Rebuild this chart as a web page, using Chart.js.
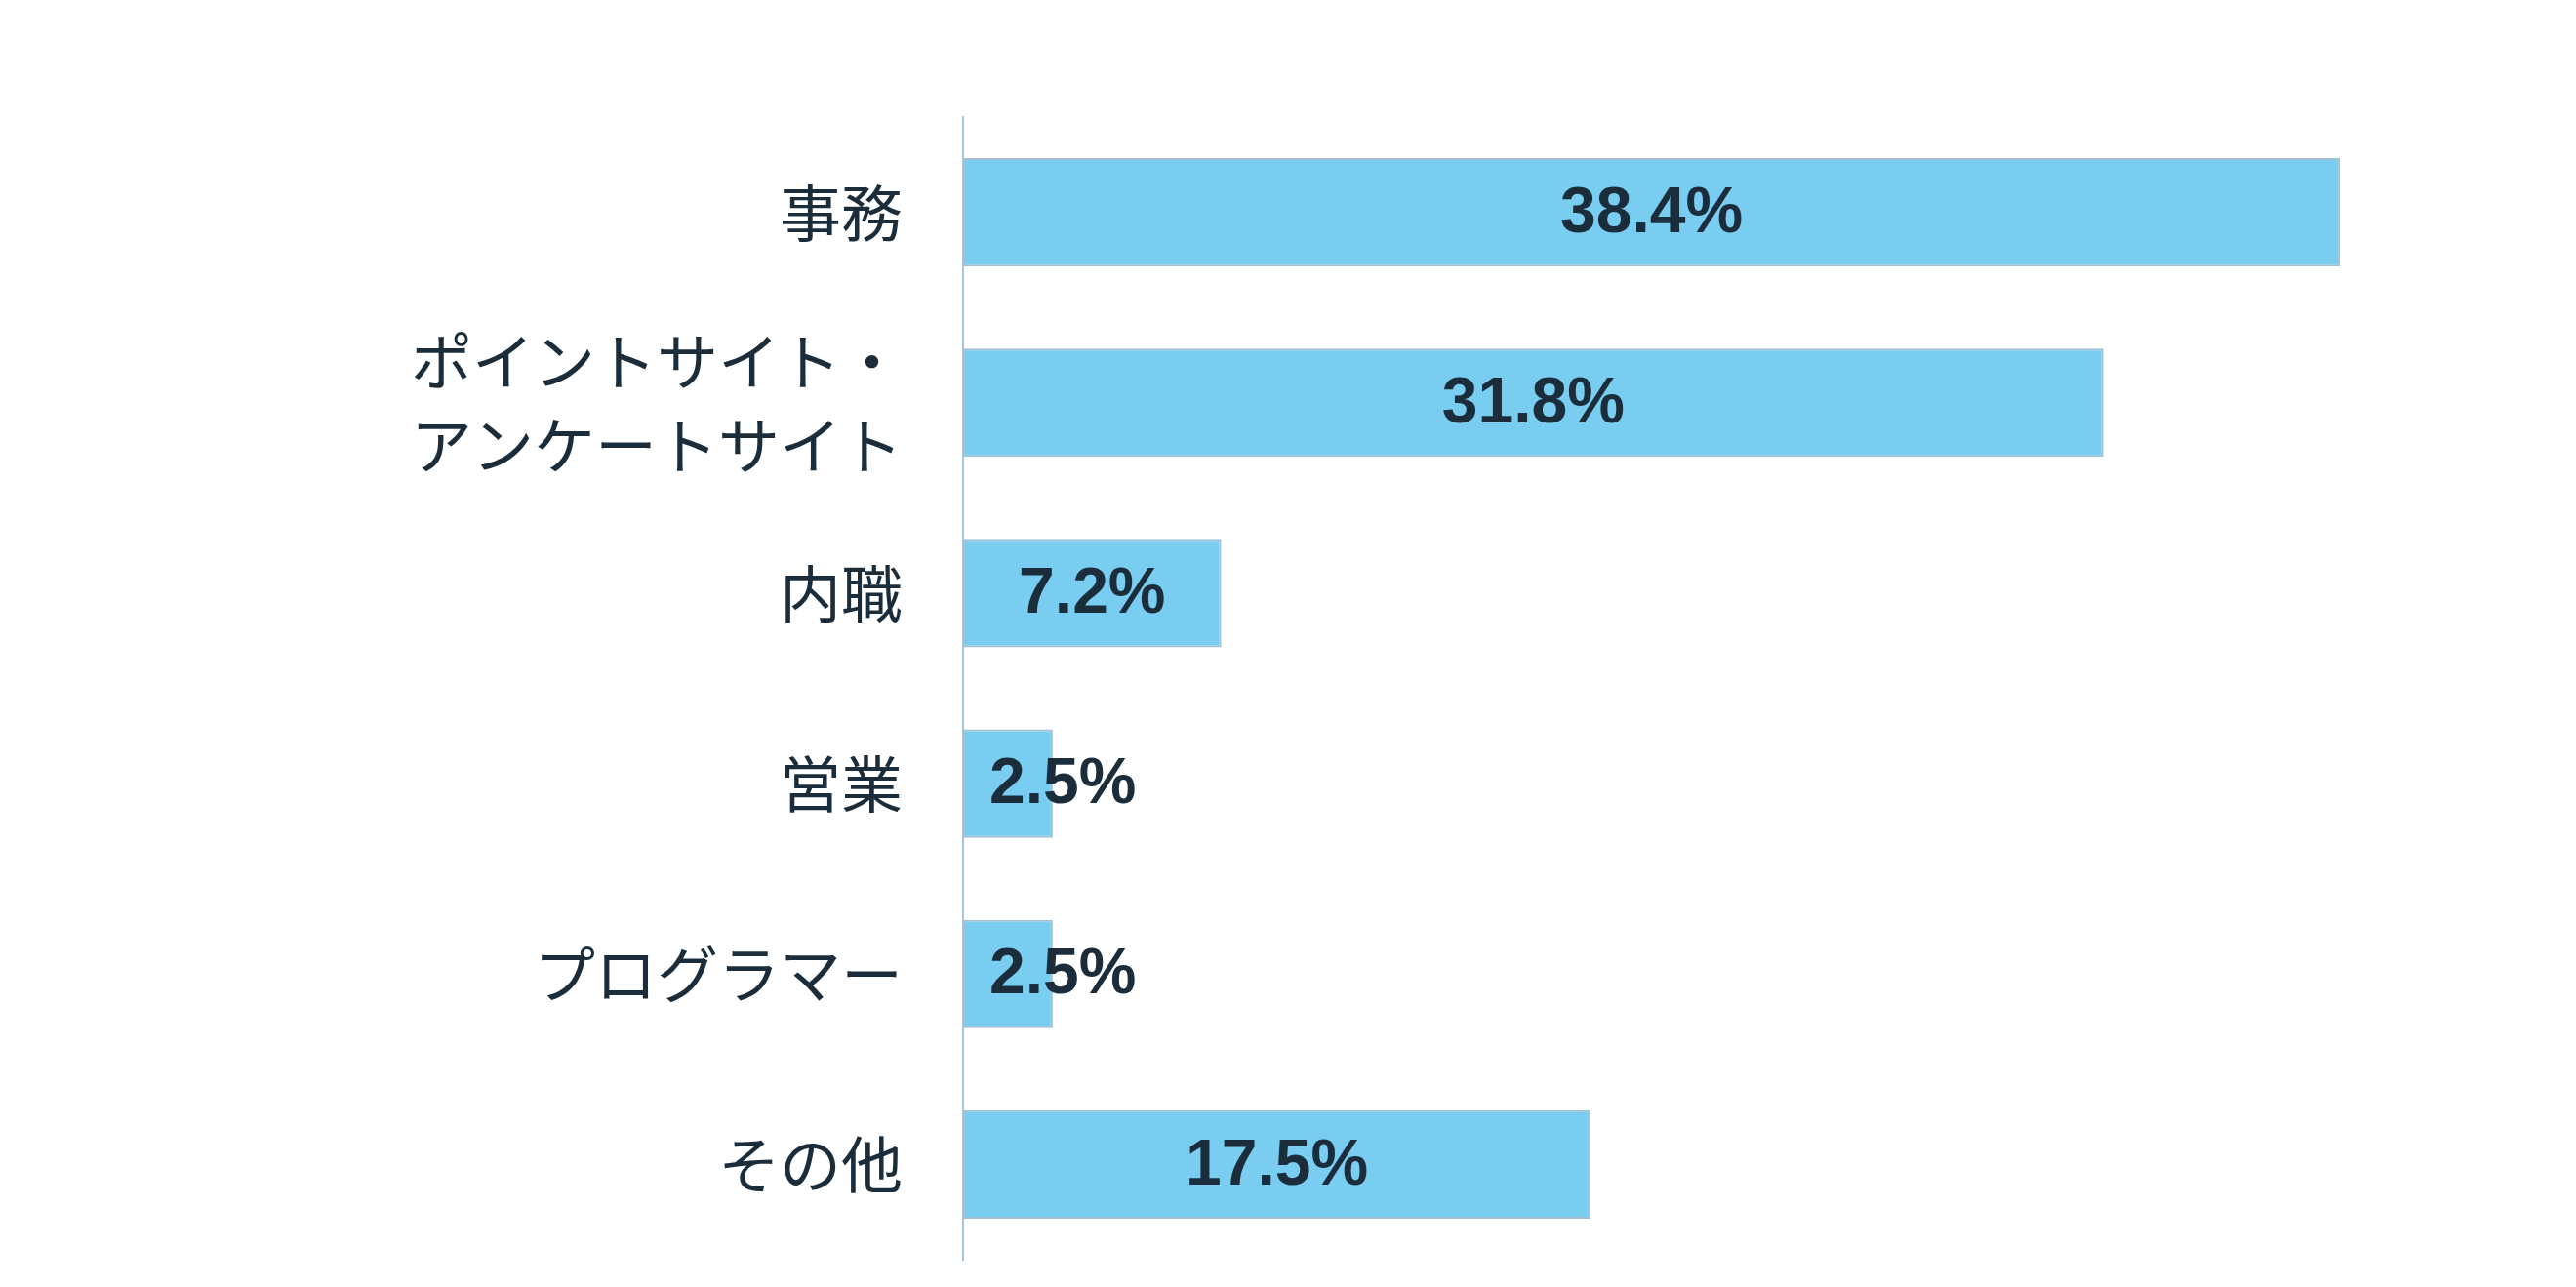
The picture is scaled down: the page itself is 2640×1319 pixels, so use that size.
<!DOCTYPE html>
<html lang="ja">
<head>
<meta charset="utf-8">
<title>職種</title>
<script src="https://cdn.jsdelivr.net/npm/chart.js@4.4.1/dist/chart.umd.min.js"></script>
<style>
    html, body { margin: 0; padding: 0; background: #ffffff; }
    #wrap { width: 2640px; height: 1319px; }
</style>
</head>
<body>
<div id="wrap"><canvas id="job-chart" width="2640" height="1319"></canvas></div>
<script>
const categories = [
    '事務',
    ['ポイントサイト・', 'アンケートサイト'],
    '内職',
    '営業',
    'プログラマー',
    'その他',
];
const shares = [38.4, 31.8, 7.2, 2.5, 2.5, 17.5];

const textColor = '#1b2d3b';

/**
 * Percent labels inside the bars, pushed to the bar start when they do not fit
 */
const valueLabels = {
    id: 'valueLabels',
    afterDatasetsDraw(chart) {
        const ctx = chart.ctx;
        const meta = chart.getDatasetMeta(0);
        ctx.save();
        ctx.font = 'bold 66px "Liberation Sans", Arial, sans-serif';
        ctx.fillStyle = textColor;
        ctx.textBaseline = 'middle';
        meta.data.forEach((bar, i) => {
            const text = shares[i].toFixed(1) + '%';
            const w = ctx.measureText(text).width;
            const { x, y, base } = bar.getProps(['x', 'y', 'base'], true);
            let left = (x + base) / 2 - w / 2;
            if (left < base + 27) {
                left = base + 27;
            }
            ctx.textAlign = 'left';
            ctx.fillText(text, left, y + 2);
        });
        ctx.restore();
    }
};

new Chart(
    document.getElementById('job-chart'),
    {
        type: 'bar',
        plugins: [valueLabels],
        options: {
            indexAxis: 'y',
            responsive: false,
            animation: false,
            devicePixelRatio: 1,
            layout: {
                padding: { top: 120, right: 183, bottom: 28, left: 0 }
            },
            scales: {
                x: {
                    display: false,
                    min: 0,
                    max: 40,
                },
                y: {
                    afterFit(scale) {
                        // fixed axis position, no extra label padding above/below
                        scale.width = 987;
                        scale.paddingTop = 0;
                        scale.paddingBottom = 0;
                    },
                    grid: {
                        display: false,
                    },
                    border: {
                        display: true,
                        color: '#a9c5dd',
                        width: 2,
                    },
                    ticks: {
                        color: textColor,
                        padding: 54,
                        font: {
                            family: '"Noto Sans CJK JP", "Noto Sans", sans-serif',
                            size: 63,
                            lineHeight: 1.37,
                        },
                    },
                },
            },
            plugins: {
                legend: { display: false },
                tooltip: { enabled: false },
            },
        },
        data: {
            labels: categories,
            datasets: [
                {
                    label: '割合',
                    data: shares,
                    backgroundColor: '#79cdf0',
                    borderColor: '#a3bfd4',
                    borderWidth: 2,
                    borderSkipped: false,
                    categoryPercentage: 1,
                    barPercentage: 0.57,
                }
            ]
        }
    }
);
</script>
</body>
</html>
